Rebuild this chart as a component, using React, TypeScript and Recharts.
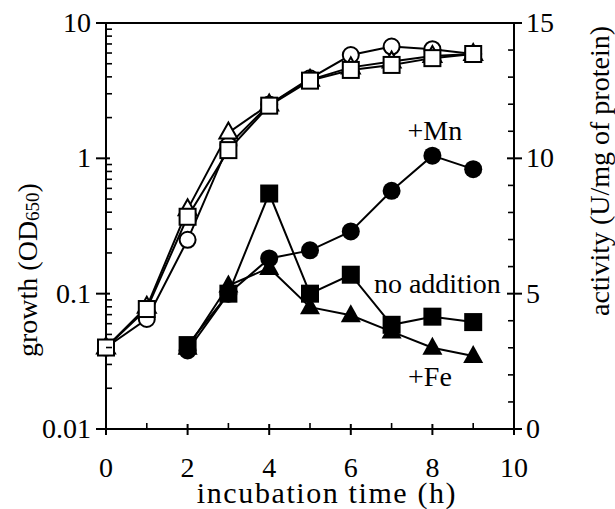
import React from "react";
import {
  ComposedChart,
  Line,
  XAxis,
  YAxis,
  ReferenceLine,
  ReferenceDot,
} from "recharts";

// incubation time (h)
const hours = [0, 1, 2, 3, 4, 5, 6, 7, 8, 9];

// growth, OD650 (open symbols, left log axis)
const growthMn = [0.04, 0.065, 0.25, 1.25, 2.5, 3.9, 5.8, 6.7, 6.4, 5.9];
const growthFe = [0.04, 0.08, 0.42, 1.55, 2.5, 3.8, 4.7, 5.2, 5.7, 5.9];
const growthNone = [0.04, 0.077, 0.37, 1.15, 2.45, 3.75, 4.5, 4.9, 5.5, 5.9];

// activity, U/mg of protein (filled symbols, right axis)
const activityMn = [null, null, 2.9, 5.0, 6.3, 6.6, 7.3, 8.8, 10.1, 9.6];
const activityFe = [null, null, 3.0, 5.3, 5.95, 4.5, 4.2, 3.6, 3.0, 2.7];
const activityNone = [null, null, 3.1, 5.0, 8.7, 5.0, 5.7, 3.85, 4.15, 3.95];

// ticks
const xTicks = [0, 1, 2, 3, 4, 5, 6, 7, 8, 9, 10];
const growthTicks = [
  0.01, 0.02, 0.03, 0.04, 0.05, 0.06, 0.07, 0.08, 0.09,
  0.1, 0.2, 0.3, 0.4, 0.5, 0.6, 0.7, 0.8, 0.9,
  1, 2, 3, 4, 5, 6, 7, 8, 9, 10,
];
const growthLabels = ["0.01", "0.1", "1", "10"];
const activityTicks = [0, 1, 2, 3, 4, 5, 6, 7, 8, 9, 10, 11, 12, 13, 14, 15];

// annotation positions in data units [time, activity]
const labelMn = [8.06, 11.05];
const labelNone = [8.12, 5.4];
const labelFe = [7.94, 1.96];

const data = hours.map((t, i) => ({
  t,
  gMn: growthMn[i],
  gFe: growthFe[i],
  gNone: growthNone[i],
  aMn: activityMn[i],
  aFe: activityFe[i],
  aNone: activityNone[i],
}));

const FONT = '"Liberation Serif", "Times New Roman", serif';
const INK = "#000";

const isMajorLog = (v: number) => {
  const l = Math.log10(v);
  return Math.abs(l - Math.round(l)) < 1e-6;
};

const LeftTick = (props: any) => {
  const { x, y, payload } = props;
  const v = payload.value;
  const major = isMajorLog(v);
  const idx = Math.round(Math.log10(v)) + 2;
  return (
    <g>
      <line
        x1={major ? x - 10 : x}
        x2={major ? x + 4 : x + 6}
        y1={y}
        y2={y}
        stroke={INK}
        strokeWidth={major ? 2 : 1.6}
      />
      {major && (
        <text x={x - 15} y={y + 9} textAnchor="end" fontSize={28} fontFamily={FONT} fill={INK}>
          {growthLabels[idx]}
        </text>
      )}
    </g>
  );
};

const RightTick = (props: any) => {
  const { x, y, payload } = props;
  const v = payload.value;
  const major = v % 5 === 0;
  return (
    <g>
      <line
        x1={major ? x - 7 : x - 6}
        x2={major ? x + 8 : x}
        y1={y}
        y2={y}
        stroke={INK}
        strokeWidth={major ? 2 : 1.6}
      />
      {major && (
        <text x={x + 12} y={y + 9} textAnchor="start" fontSize={28} fontFamily={FONT} fill={INK}>
          {v}
        </text>
      )}
    </g>
  );
};

const BottomTick = (props: any) => {
  const { x, y, payload } = props;
  const v = payload.value;
  const major = v % 2 === 0;
  return (
    <g>
      <line
        x1={x}
        x2={x}
        y1={major ? y - 5 : y - 6}
        y2={major ? y + 6 : y}
        stroke={INK}
        strokeWidth={major ? 2 : 1.6}
      />
      {major && (
        <text x={x} y={y + 48} textAnchor="middle" fontSize={28} fontFamily={FONT} fill={INK}>
          {v}
        </text>
      )}
    </g>
  );
};

const LeftTitle = (props: any) => {
  const vb = props.viewBox;
  const cx = vb.x + 37;
  const cy = vb.y + 247;
  return (
    <text
      x={cx}
      y={cy}
      transform={`rotate(-90, ${cx}, ${cy})`}
      textAnchor="middle"
      fontSize={28}
      fontFamily={FONT}
      fill={INK}
    >
      <tspan>growth (OD</tspan>
      <tspan fontSize={19} dy={2}>650</tspan>
      <tspan fontSize={28} dy={-2}>)</tspan>
    </text>
  );
};

const RightTitle = (props: any) => {
  const vb = props.viewBox;
  const cx = vb.x + 95;
  const cy = vb.y + 148;
  return (
    <text
      x={cx}
      y={cy}
      transform={`rotate(-90, ${cx}, ${cy})`}
      textAnchor="middle"
      fontSize={28}
      fontFamily={FONT}
      fill={INK}
    >
      activity (U/mg of protein)
    </text>
  );
};

const BottomTitle = (props: any) => {
  const vb = props.viewBox;
  return (
    <text
      x={vb.x + 221}
      y={vb.y + 74}
      textAnchor="middle"
      fontSize={30}
      letterSpacing={1.6}
      fontFamily={FONT}
      fill={INK}
    >
      incubation time (h)
    </text>
  );
};

const ok = (p: any) => p.cx != null && p.cy != null && p.value != null;

const openCircle = (p: any) =>
  ok(p) ? <circle key={p.index} cx={p.cx} cy={p.cy} r={8} fill="#fff" stroke={INK} strokeWidth={2} /> : <g key={p.index} />;
const openSquare = (p: any) =>
  ok(p) ? <rect key={p.index} x={p.cx - 8} y={p.cy - 8} width={16} height={16} fill="#fff" stroke={INK} strokeWidth={2} /> : <g key={p.index} />;
const openTriangle = (p: any) =>
  ok(p) ? (
    <polygon
      key={p.index}
      points={`${p.cx},${p.cy - 10} ${p.cx - 9},${p.cy + 6} ${p.cx + 9},${p.cy + 6}`}
      fill="#fff"
      stroke={INK}
      strokeWidth={2}
    />
  ) : <g key={p.index} />;
const filledCircle = (p: any) =>
  ok(p) ? <circle key={p.index} cx={p.cx} cy={p.cy} r={9} fill={INK} /> : <g key={p.index} />;
const filledSquare = (p: any) =>
  ok(p) ? <rect key={p.index} x={p.cx - 9} y={p.cy - 9} width={18} height={18} fill={INK} /> : <g key={p.index} />;
const filledTriangle = (p: any) =>
  ok(p) ? (
    <polygon
      key={p.index}
      points={`${p.cx},${p.cy - 11} ${p.cx - 10},${p.cy + 7} ${p.cx + 10},${p.cy + 7}`}
      fill={INK}
    />
  ) : <g key={p.index} />;

const annotation = (text: string) => ({
  value: text,
  position: "center" as const,
  fontSize: 28,
  fontFamily: FONT,
  fill: INK,
});

export default function App() {
  return (
    <div style={{ position: "absolute", left: 0, top: 0, background: "#fff" }}>
      <ComposedChart
        width={615}
        height={509}
        data={data}
        margin={{ top: 23, right: 0, bottom: 0, left: 0 }}
      >
        <XAxis
          dataKey="t"
          type="number"
          domain={[0, 10]}
          ticks={xTicks}
          interval={0}
          height={80}
          tickSize={0}
          tickMargin={0}
          tickLine={false}
          axisLine={{ stroke: INK, strokeWidth: 2 }}
          tick={BottomTick}
          label={{ content: BottomTitle }}
        />
        <YAxis
          yAxisId="g"
          orientation="left"
          scale="log"
          type="number"
          domain={[0.01, 10]}
          allowDataOverflow
          ticks={growthTicks}
          interval={0}
          width={106}
          tickSize={0}
          tickMargin={0}
          tickLine={false}
          axisLine={{ stroke: INK, strokeWidth: 2 }}
          tick={LeftTick}
          label={{ content: LeftTitle }}
        />
        <YAxis
          yAxisId="a"
          orientation="right"
          type="number"
          domain={[0, 15]}
          ticks={activityTicks}
          interval={0}
          width={101}
          tickSize={0}
          tickMargin={0}
          tickLine={false}
          axisLine={{ stroke: INK, strokeWidth: 2 }}
          tick={RightTick}
          label={{ content: RightTitle }}
        />
        <ReferenceLine yAxisId="a" y={15} stroke={INK} strokeWidth={2} />

        <Line yAxisId="g" dataKey="gMn" type="linear" stroke={INK} strokeWidth={2} dot={openCircle} activeDot={false} isAnimationActive={false} />
        <Line yAxisId="g" dataKey="gFe" type="linear" stroke={INK} strokeWidth={2} dot={openTriangle} activeDot={false} isAnimationActive={false} />
        <Line yAxisId="g" dataKey="gNone" type="linear" stroke={INK} strokeWidth={2} dot={openSquare} activeDot={false} isAnimationActive={false} />

        <Line yAxisId="a" dataKey="aMn" type="linear" stroke={INK} strokeWidth={2} dot={filledCircle} activeDot={false} isAnimationActive={false} />
        <Line yAxisId="a" dataKey="aFe" type="linear" stroke={INK} strokeWidth={2} dot={filledTriangle} activeDot={false} isAnimationActive={false} />
        <Line yAxisId="a" dataKey="aNone" type="linear" stroke={INK} strokeWidth={2} dot={filledSquare} activeDot={false} isAnimationActive={false} />

        <ReferenceDot yAxisId="a" x={labelMn[0]} y={labelMn[1]} r={0} fill="none" stroke="none" label={annotation("+Mn")} />
        <ReferenceDot yAxisId="a" x={labelNone[0]} y={labelNone[1]} r={0} fill="none" stroke="none" label={annotation("no addition")} />
        <ReferenceDot yAxisId="a" x={labelFe[0]} y={labelFe[1]} r={0} fill="none" stroke="none" label={annotation("+Fe")} />
      </ComposedChart>
    </div>
  );
}
